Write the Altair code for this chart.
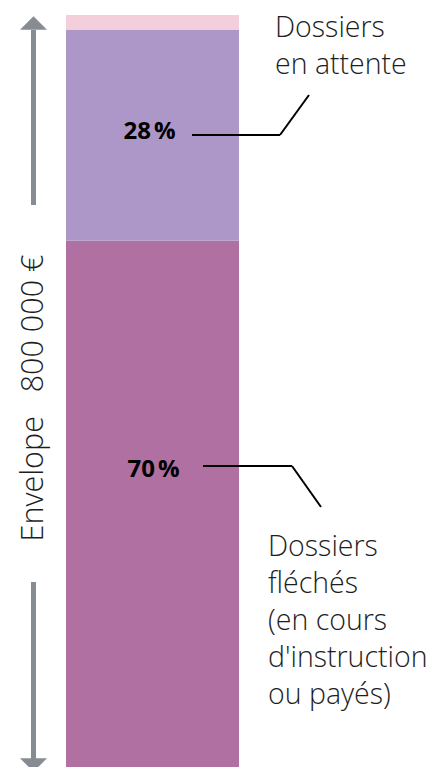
import altair as alt
import pandas as pd

# Data
categories = ["Dossiers fléchés", "Dossiers en attente", "Autres"]
values = [70, 28, 2]
order_idx = [0, 1, 2]
colors = ["#b070a2", "#ad97c8", "#f3cfdb"]
pct_labels = ["70\u202f%", "28\u202f%"]
envelope_label = "Envelope\u00a0\u00a0\u00a0800\u00a0000\u00a0€"
label_attente = ["Dossiers", "en attente"]
label_fleches = ["Dossiers", "fléchés", "(en cours", "d'instruction", "ou payés)"]

df = pd.DataFrame({"cat": categories, "value": values, "idx": order_idx})
one = pd.DataFrame({"k": [0]})

W, H = 430, 760
ydom = [0, 100.92]
FONT = "Open Sans"
GRAY = "#878c92"
TXT = "#1e1e1e"

bar = alt.Chart(df).transform_window(
    end="sum(value)", sort=[alt.SortField("idx")], frame=[None, 0]
).transform_calculate(
    start="datum.end - datum.value"
).mark_bar().encode(
    x=alt.value(58), x2=alt.value(231),
    y=alt.Y("end:Q", scale=alt.Scale(domain=ydom), axis=None),
    y2="start:Q",
    color=alt.Color("cat:N", scale=alt.Scale(domain=categories, range=colors), legend=None),
)

base = alt.Chart(one)

shaft_top = base.mark_rule(color=GRAY, strokeWidth=5).encode(
    x=alt.value(25.5), y=alt.value(22), y2=alt.value(197))
shaft_bot = base.mark_rule(color=GRAY, strokeWidth=5).encode(
    x=alt.value(25.5), y=alt.value(574), y2=alt.value(752))
head_up = base.mark_point(shape="M-1,0.5L0,-0.5L1,0.5Z", size=729, filled=True,
                          color=GRAY, opacity=1).encode(x=alt.value(25.5), y=alt.value(15))
head_down = base.mark_point(shape="M-1,-0.5L0,0.5L1,-0.5Z", size=729, filled=True,
                            color=GRAY, opacity=1).encode(x=alt.value(25.5), y=alt.value(757))

env_text = base.mark_text(text=envelope_label, angle=270, align="center", baseline="alphabetic",
                          font=FONT, fontWeight=300, fontSize=30.5, color=TXT).encode(
    x=alt.value(35), y=alt.value(390))

lab28 = base.mark_text(text=pct_labels[1], align="center", baseline="alphabetic",
                       font=FONT, fontWeight="bold", fontSize=24, color="#000000").encode(
    x=alt.value(141.5), y=alt.value(131))
lab70 = base.mark_text(text=pct_labels[0], align="center", baseline="alphabetic",
                       font=FONT, fontWeight="bold", fontSize=24, color="#000000").encode(
    x=alt.value(145.5), y=alt.value(469))

def seg(x1, y1, x2, y2):
    return base.mark_rule(color="#000000", strokeWidth=2).encode(
        x=alt.value(x1), y=alt.value(y1), x2=alt.value(x2), y2=alt.value(y2))

conn = [seg(184, 127, 272, 127), seg(272, 127, 301, 87),
        seg(195, 458, 284, 458), seg(284, 458, 313, 499)]

txt_att = base.mark_text(text=label_attente, align="left", baseline="alphabetic", lineHeight=37,
                         font=FONT, fontWeight=300, fontSize=28.5, color=TXT).encode(
    x=alt.value(267), y=alt.value(29))
txt_fl = base.mark_text(text=label_fleches, align="left", baseline="alphabetic", lineHeight=37,
                        font=FONT, fontWeight=300, fontSize=28.5, color=TXT).encode(
    x=alt.value(260), y=alt.value(548))

chart = alt.layer(bar, shaft_top, shaft_bot, head_up, head_down, env_text, lab28, lab70,
                  *conn, txt_att, txt_fl).properties(
    width=W, height=H, padding=0,
    autosize=alt.AutoSizeParams(type="none"),
).configure_view(stroke=None)

chart.save("out.html", embed_options={"renderer": "svg", "actions": False})
